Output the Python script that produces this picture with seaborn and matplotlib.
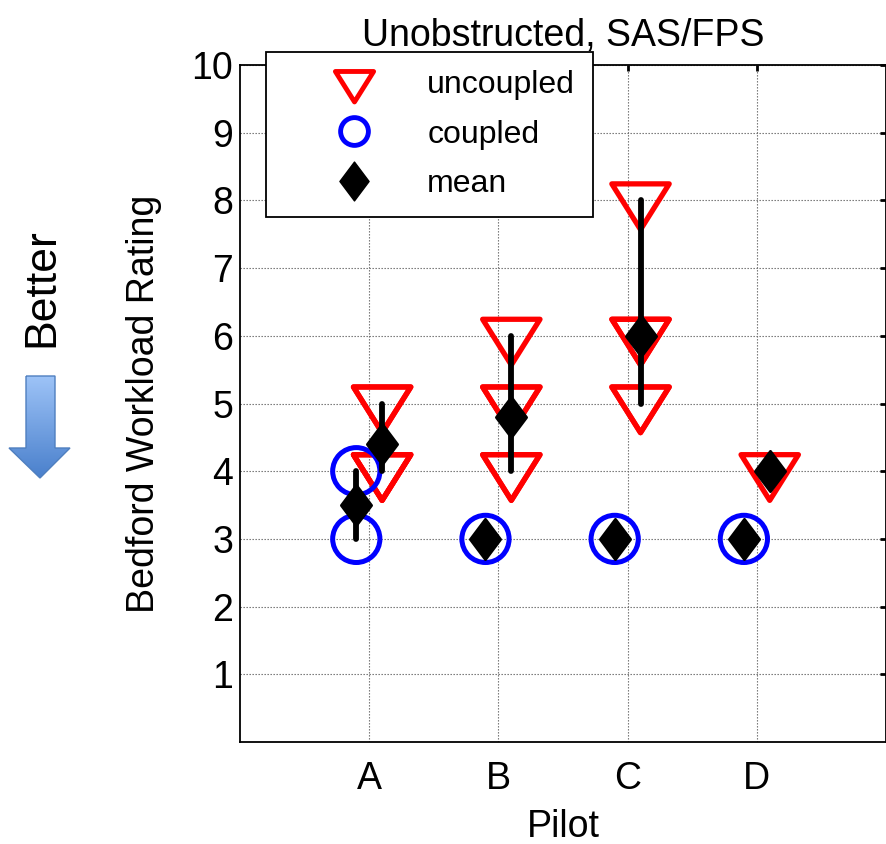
import numpy as np
import pandas as pd
import seaborn as sns
import matplotlib.pyplot as plt
from matplotlib.lines import Line2D
from matplotlib.path import Path
from matplotlib.patches import PathPatch
from matplotlib.colors import LinearSegmentedColormap

# ratings (min-max bars + mean diamond)
pilots = ["A", "B", "C", "D"]
uncoupled = {"A": [5, 5, 4, 4, 4], "B": [6, 5, 5, 4, 4], "C": [8, 6, 5, 5, 6], "D": [4]}
coupled = {"A": [4, 3], "B": [3], "C": [3], "D": [3]}
offsets = {"coupled": -0.1, "uncoupled": 0.1}

rows = []
for cond, vals in [("uncoupled", uncoupled), ("coupled", coupled)]:
    for i, p in enumerate(pilots):
        for v in vals[p]:
            rows.append({"pilot": p, "condition": cond, "rating": v,
                         "xpos": i + 1 + offsets[cond]})
df = pd.DataFrame(rows)

sns.set_style("white")
plt.rcParams["font.family"] = ["Liberation Sans", "DejaVu Sans"]
plt.rcParams["text.color"] = "black"
plt.rcParams["axes.labelcolor"] = "black"

fig = plt.figure(figsize=(8.87, 8.44), dpi=100)
ax = fig.add_axes([240 / 887, 1 - 742 / 844, 646 / 887, 677 / 844])

# MATLAB-style triangle, anchored near its centroid
tri = Path([(-29.5, 17), (29.5, 17), (0, -30), (-29.5, 17)],
           [Path.MOVETO, Path.LINETO, Path.LINETO, Path.CLOSEPOLY])
diamond = Path([(0, 1), (0.75, 0), (0, -1), (-0.75, 0), (0, 1)],
               [Path.MOVETO, Path.LINETO, Path.LINETO, Path.LINETO, Path.CLOSEPOLY])

# raw ratings
sns.scatterplot(data=df[df.condition == "uncoupled"], x="xpos", y="rating",
                marker=tri, s=42 ** 2, facecolor="none", edgecolor="red",
                linewidth=3.8, ax=ax, zorder=2)
sns.scatterplot(data=df[df.condition == "coupled"], x="xpos", y="rating",
                marker="o", s=34 ** 2, facecolor="none", edgecolor="blue",
                linewidth=3.6, ax=ax, zorder=2)

# mean with min-max range
sns.pointplot(data=df, x="xpos", y="rating", hue="condition", native_scale=True,
              palette=["black", "black"], errorbar=lambda v: (v.min(), v.max()),
              linestyle="none", markers=[diamond, diamond], markersize=29,
              err_kws={"linewidth": 4.2}, legend=False, ax=ax)

ax.set_xlim(0, 5)
ax.set_ylim(0, 10)
ax.set_xticks(range(1, 5))
ax.set_xticklabels(pilots)
ax.set_yticks(range(1, 11))
ax.grid(True, color="#666666", linestyle=(0, (1.2, 1.5)), linewidth=0.8)
ax.set_axisbelow(True)
for s in ax.spines.values():
    s.set_visible(True)
    s.set_color("black")
    s.set_linewidth(1.3)
ax.tick_params(direction="in", length=4, width=2, top=True, right=True,
               labelsize=27, colors="black")
ax.tick_params(axis="x", pad=14)
ax.tick_params(axis="y", pad=5)
ax.set_xlabel("Pilot", fontsize=27, labelpad=8)
ax.set_ylabel("Bedford Workload Rating", fontsize=27, labelpad=21)
ax.set_title("Unobstructed, SAS/FPS", fontsize=27, pad=14)

handles = [
    Line2D([], [], linestyle="none", marker=tri, markersize=28, markerfacecolor="none",
           markeredgecolor="red", markeredgewidth=3.5),
    Line2D([], [], linestyle="none", marker="o", markersize=20, markerfacecolor="none",
           markeredgecolor="blue", markeredgewidth=3.5),
    Line2D([], [], linestyle="none", marker=diamond, markersize=28, color="black"),
]
leg = ax.legend(handles, ["uncoupled", "coupled", "mean"], loc="upper left",
                bbox_to_anchor=(0.04, 1.019), fontsize=23, frameon=True,
                fancybox=False, framealpha=1, edgecolor="black",
                handlelength=4.4, handletextpad=0.1, borderpad=0.55,
                labelspacing=0.62, borderaxespad=0)
leg.get_frame().set_linewidth(1.3)
leg.set_zorder(5)

# "Better" note with gradient arrow
fig.text(42 / 887, 1 - 288 / 844, "Better", rotation=90, fontsize=32,
         ha="center", va="center")
ax2 = fig.add_axes([0, 0, 1, 1], zorder=-1)
ax2.set_xlim(0, 887)
ax2.set_ylim(844, 0)
ax2.axis("off")
arrow = Path([(26, 376), (55, 376), (55, 448), (70, 448), (40, 478),
              (9, 448), (26, 448), (26, 376)])
patch = PathPatch(arrow, facecolor="none", edgecolor="#4f7fbf", linewidth=1)
ax2.add_patch(patch)
grad = np.linspace(0, 1, 100).reshape(-1, 1)
cmap = LinearSegmentedColormap.from_list("arr", ["#9dc3f7", "#4a80cc"])
img = ax2.imshow(grad, cmap=cmap, extent=(9, 70, 478, 376), aspect="auto")
img.set_clip_path(patch)

fig.savefig("out.png", dpi=100)
